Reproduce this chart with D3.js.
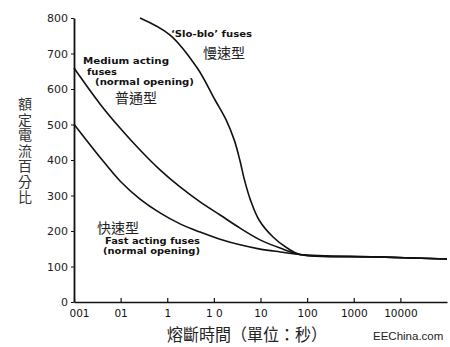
<!DOCTYPE html>
<html><head><meta charset="utf-8">
<script src="https://cdn.jsdelivr.net/npm/d3@7"></script>
<style>body{margin:0;background:#fff}svg{display:block}</style>
</head><body>
<script>
// ---- data ----
const xTickValues = [0.01, 0.1, 1, 10, 100, 1000, 10000, 100000];
const xTickLabels = ["001", "01", "1", "1 0", "10", "100", "1000", "10000"];
const yTickValues = [0, 100, 200, 300, 400, 500, 600, 700, 800];

const sloBloTime = [0.26, 1.15, 4.4, 10.6, 18.3, 27.4, 36, 45.3, 61, 93, 186, 372, 700, 30000, 1000000];
const sloBloPct  = [800, 752, 659, 569, 513, 456, 400, 344, 287, 231, 183, 152, 134, 127, 121];

const mediumTime = [0.01, 0.0361, 0.0971, 0.261, 0.70, 1.88, 5.06, 13.6, 36.5, 98, 264, 700, 30000, 1000000];
const mediumPct  = [659, 558, 490, 428, 372, 324, 282, 245, 208, 175, 152, 134, 127, 121];

const fastTime = [0.01, 0.0361, 0.0971, 0.261, 0.70, 1.88, 5.06, 13.6, 36.5, 98, 264, 700, 30000, 1000000];
const fastPct  = [501, 408, 341, 290, 251, 220, 197, 177, 161, 149, 141, 134, 127, 121];

const W = 450, H = 347;
const svg = d3.select("body").append("svg").attr("width", W).attr("height", H);

const x = d3.scaleLog().domain([0.01, 1000000]).range([74, 447]);
const y = d3.scaleLinear().domain([0, 800]).range([302, 18]);

// axes
const gx = svg.append("g").attr("transform", `translate(0,${y(0)})`)
  .call(d3.axisBottom(x).tickValues(xTickValues).tickSizeInner(-4).tickSizeOuter(0)
    .tickFormat((d, i) => xTickLabels[i]));
gx.selectAll("text").attr("dy", "1.1em").attr("font-family", "DejaVu Sans").attr("font-size", 10.5).attr("fill", "#111");
gx.select(".domain").attr("stroke-width", 1.6).attr("stroke", "#111");
gx.selectAll(".tick line").attr("stroke", "#111").attr("stroke-width", 1.2);
gx.selectAll(".tick text").filter((d, i) => i === 0).attr("dx", 5);

const gy = svg.append("g").attr("transform", `translate(${x(0.01)},0)`)
  .call(d3.axisLeft(y).tickValues(yTickValues).tickSizeInner(3).tickSizeOuter(0));
gy.selectAll("text").attr("font-family", "DejaVu Sans").attr("font-size", 11).attr("fill", "#222").attr("x", -6);
gy.select(".domain").attr("stroke-width", 1.8).attr("stroke", "#111");
gy.selectAll(".tick line").attr("stroke", "#111");

// curves
const line = d3.line().x(d => x(d[0])).y(d => y(d[1])).curve(d3.curveCatmullRom.alpha(0.5));
[[sloBloTime, sloBloPct], [mediumTime, mediumPct], [fastTime, fastPct]].forEach(([t, p]) => {
  svg.append("path").datum(t.map((v, i) => [v, p[i]]))
    .attr("d", line).attr("fill", "none").attr("stroke", "#111").attr("stroke-width", 1.6);
});

// annotations
const en = (txt, px, py, len) => svg.append("text").attr("x", px).attr("y", py)
  .attr("font-family", "DejaVu Sans").attr("font-weight", "bold").attr("font-size", 9.5)
  .attr("fill", "#111").attr("textLength", len).attr("lengthAdjust", "spacingAndGlyphs").text(txt);
const zh = (txt, px, py, fs) => svg.append("text").attr("x", px).attr("y", py)
  .attr("font-family", "Noto Sans CJK TC").attr("font-size", fs || 14).attr("fill", "#222").text(txt);

en("\u2018Slo-blo\u2019 fuses", 171, 37, 81);
zh("慢速型", 203, 58);
en("Medium acting", 83, 64, 86);
en("fuses", 87, 75, 30);
en("(normal opening)", 95, 85, 99);
zh("普通型", 115, 103);
zh("快速型", 97, 233);
en("Fast acting fuses", 105, 244, 95);
en("(normal opening)", 103, 254, 97);

// axis titles
svg.append("text").attr("x", 167).attr("y", 341)
  .attr("font-family", "Noto Sans CJK TC").attr("font-size", 16.5).attr("fill", "#222")
  .attr("textLength", 160).attr("lengthAdjust", "spacingAndGlyphs")
  .text("熔斷時間（單位：秒）");
svg.append("text").attr("x", 373).attr("y", 340)
  .attr("font-family", "Liberation Sans, Arial").attr("font-size", 11.5).attr("fill", "#222")
  .text("EEChina.com");
svg.append("text").attr("x", 25).attr("y", 97)
  .attr("font-family", "Noto Sans CJK TC").attr("font-size", 14).attr("fill", "#333")
  .style("writing-mode", "vertical-rl").attr("letter-spacing", 1.5)
  .text("額定電流百分比");
</script>
</body></html>
